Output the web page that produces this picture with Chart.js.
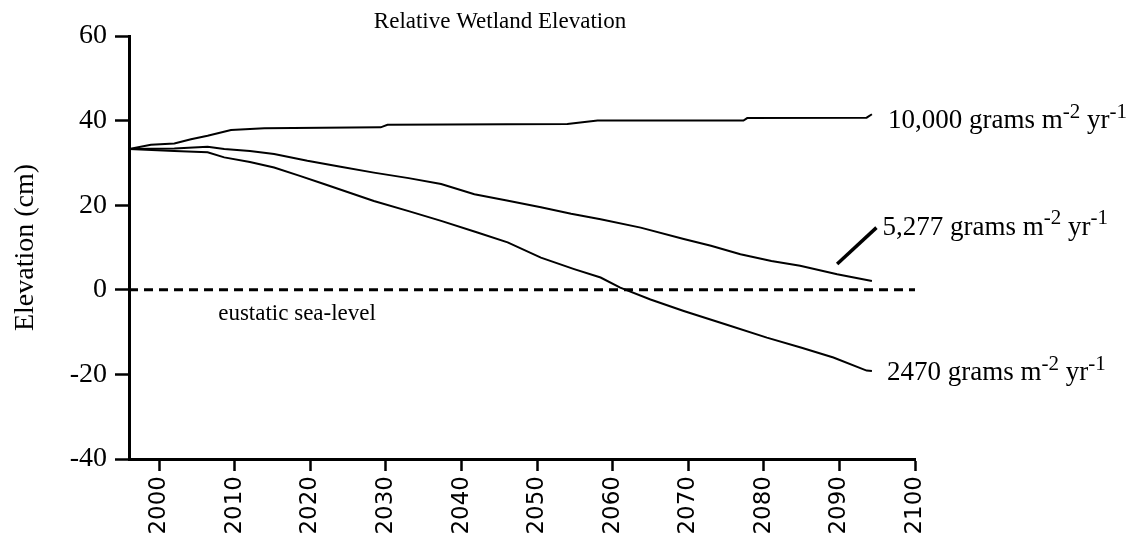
<!DOCTYPE html>
<html lang="en">
<head>
  <meta charset="UTF-8">
  <title>Relative Wetland Elevation</title>
  <script src="https://cdn.jsdelivr.net/npm/chart.js@4.4.0/dist/chart.umd.min.js"></script>
  <style>
    html, body { margin: 0; padding: 0; background: #ffffff; }
    #wrap { width: 1131px; height: 539px; position: relative; }
  </style>
</head>
<body>
<div id="wrap"><canvas id="chart"></canvas></div>
<script>
  // data
  var years10k = [1996, 1998.9, 2002, 2004.2, 2006.4, 2009.5, 2013.9, 2029.3, 2030.2, 2054, 2058, 2077.3, 2077.8, 2093.6, 2094.3];
  var elev10k  = [33.3, 34.3, 34.6, 35.6, 36.4, 37.8, 38.2, 38.4, 39.0, 39.2, 40.0, 40.0, 40.6, 40.7, 41.5];

  var years5277 = [1996, 2002, 2006.4, 2008.6, 2012, 2015.2, 2019.6, 2024, 2028.4, 2033, 2037.3, 2041.7, 2046, 2050.5, 2054.5, 2058.4, 2063.7, 2069.4, 2073, 2076.9, 2081, 2084.8, 2089.7, 2094.3];
  var elev5277  = [33.3, 33.4, 33.8, 33.3, 32.8, 32.1, 30.5, 29.1, 27.7, 26.4, 25.0, 22.6, 21.1, 19.5, 18.0, 16.7, 14.7, 12.0, 10.4, 8.4, 6.8, 5.7, 3.7, 2.1];

  var years2470 = [1996, 2002, 2006.4, 2008.6, 2012, 2015.2, 2018.5, 2021.8, 2028.4, 2033, 2037.3, 2042, 2046.1, 2050.5, 2054.9, 2058.4, 2061, 2065, 2069.4, 2075, 2080.4, 2085, 2089.2, 2093.6, 2094.3];
  var elev2470  = [33.3, 32.8, 32.5, 31.3, 30.2, 28.9, 27.0, 25.0, 21.0, 18.6, 16.3, 13.6, 11.2, 7.6, 4.9, 2.9, 0.5, -2.3, -5.0, -8.2, -11.3, -13.7, -16.0, -19.1, -19.2];

  var seaYears = [1996, 2100];
  var seaElev  = [0, 0];

  // leader line for the 5,277 label
  var leaderYears = [2089.7, 2094.9];
  var leaderElev  = [6.1, 14.7];

  var xTicks = [2000, 2010, 2020, 2030, 2040, 2050, 2060, 2070, 2080, 2090, 2100];
  var yTicks = [60, 40, 20, 0, -20, -40];

  var seriesLabels = ['10,000', '5,277', '2470'];

  function pts(xs, ys) {
    return xs.map(function(x, i) { return { x: x, y: ys[i] }; });
  }

  var serif = '"Liberation Serif", "Times New Roman", serif';

  function drawRate(ctx, x, y, lead, size) {
    // "<lead> grams m-2 yr-1" with raised exponents
    var parts = [[lead + ' grams m', 0], ['-2', 1], [' yr', 0], ['-1', 1]];
    ctx.textBaseline = 'middle';
    ctx.textAlign = 'left';
    parts.forEach(function(p) {
      var s = p[1] ? Math.round(size * 0.76) : size;
      ctx.font = s + 'px ' + serif;
      ctx.fillText(p[0], x, p[1] ? y - size * 0.32 : y);
      x += ctx.measureText(p[0]).width;
    });
  }

  var textPlugin = {
    id: 'texts',
    afterDatasetsDraw: function(chart) {
      var ctx = chart.ctx, xs = chart.scales.x, ys = chart.scales.y;
      ctx.save();
      ctx.fillStyle = '#000';

      ctx.font = '23px ' + serif;
      ctx.textAlign = 'center';
      ctx.textBaseline = 'middle';
      ctx.fillText('Relative Wetland Elevation', 500, 22);

      ctx.font = '23px ' + serif;
      ctx.textAlign = 'left';
      ctx.fillText('eustatic sea-level', xs.getPixelForValue(2007.8), ys.getPixelForValue(-5.7));

      var n = years10k.length - 1;
      drawRate(ctx, xs.getPixelForValue(years10k[n]) + 16, ys.getPixelForValue(elev10k[n]) + 7, seriesLabels[0], 27);
      drawRate(ctx, xs.getPixelForValue(leaderYears[1]) + 6, ys.getPixelForValue(leaderElev[1]), seriesLabels[1], 27);
      n = years2470.length - 1;
      drawRate(ctx, xs.getPixelForValue(years2470[n]) + 15, ys.getPixelForValue(elev2470[n]) + 2, seriesLabels[2], 27);
      ctx.restore();
    }
  };

  var line = { borderColor: '#000', borderWidth: 2, pointRadius: 0, tension: 0, fill: false };

  new Chart(document.getElementById('chart'), {
    type: 'line',
    data: {
      datasets: [
        Object.assign({ label: '10,000', data: pts(years10k, elev10k) }, line),
        Object.assign({ label: '5,277', data: pts(years5277, elev5277) }, line),
        Object.assign({ label: '2470', data: pts(years2470, elev2470) }, line),
        Object.assign({ label: 'sea-level', data: pts(seaYears, seaElev) }, line, { borderWidth: 3, borderDash: [9, 6] }),
        Object.assign({ label: 'leader', data: pts(leaderYears, leaderElev) }, line, { borderWidth: 3.5 })
      ]
    },
    options: {
      responsive: true,
      maintainAspectRatio: false,
      animation: false,
      layout: { padding: { left: 0, right: 216, top: 36, bottom: 0 } },
      plugins: { legend: { display: false }, tooltip: { enabled: false } },
      scales: {
        x: {
          type: 'linear',
          min: 1996,
          max: 2100,
          afterFit: function(s) { s.height = 80; },
          afterBuildTicks: function(s) { s.ticks = xTicks.map(function(v) { return { value: v }; }); },
          border: { display: true, color: '#000', width: 3 },
          grid: { drawOnChartArea: false, color: '#000', tickLength: 12, tickWidth: 2.5 },
          ticks: {
            color: '#000', minRotation: 90, maxRotation: 90, padding: 5,
            font: { family: '"DejaVu Sans", sans-serif', size: 23 },
            callback: function(v) { return String(v); }
          }
        },
        y: {
          type: 'linear',
          min: -40,
          max: 60,
          afterFit: function(s) { s.width = 129; },
          afterBuildTicks: function(s) { s.ticks = yTicks.map(function(v) { return { value: v }; }); },
          border: { display: true, color: '#000', width: 3 },
          grid: { drawOnChartArea: false, color: '#000', tickLength: 14, tickWidth: 2.5 },
          ticks: { color: '#000', padding: 8, font: { family: serif, size: 28 } },
          title: { display: true, text: 'Elevation (cm)', color: '#000', padding: { top: 9, bottom: 0 }, font: { family: serif, size: 28 } }
        }
      }
    },
    plugins: [textPlugin]
  });
</script>
</body>
</html>
